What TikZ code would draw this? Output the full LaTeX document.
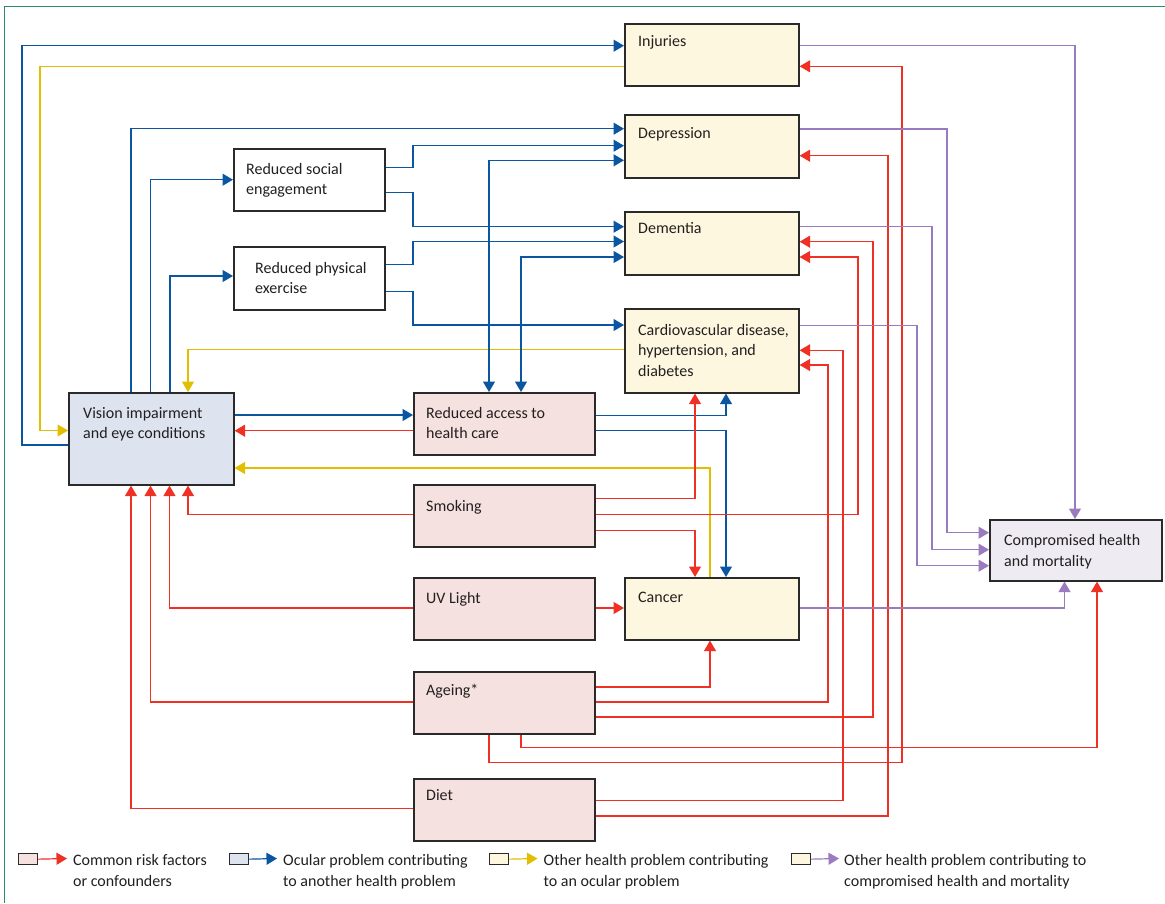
\documentclass[tikz,border=0pt]{standalone}
\usepackage{fontspec}
\setmainfont{Carlito}
\usetikzlibrary{arrows.meta}
\definecolor{cRed}{HTML}{EE3124}
\definecolor{cBlue}{HTML}{0A56A0}
\definecolor{cYel}{HTML}{E2BE00}
\definecolor{cPur}{HTML}{9B7BC0}
\definecolor{cGrn}{HTML}{2E8B64}
\definecolor{fPink}{HTML}{F5E1DF}
\definecolor{fBlue}{HTML}{DDE4F0}
\definecolor{fYel}{HTML}{FDF7E0}
\definecolor{fLav}{HTML}{EEEBF3}
\definecolor{cEdge}{HTML}{2A2A2A}
\definecolor{cTxt}{HTML}{231F20}
\begin{document}
\begin{tikzpicture}[x=1pt,y=-1pt,
  nbox/.style={draw=cEdge, line width=1.6pt, inner sep=0pt, anchor=north west},
  lgbox/.style={draw=cEdge, line width=1.3pt, inner sep=0pt, anchor=north west, minimum width=19pt, minimum height=11pt},
  txt/.style={anchor=base west, inner sep=0pt, align=left, text=cTxt, font=\fontsize{16}{20.8}\selectfont},
  link/.style={line width=1.2pt, -{Triangle[length=10.5pt,width=12pt]}},
  both/.style={line width=1.2pt, {Triangle[length=10.5pt,width=12pt]}-{Triangle[length=10.5pt,width=12pt]}},
  rd/.style={link, draw=cRed},
  bl/.style={link, draw=cBlue},
  yl/.style={link, draw=cYel},
  pu/.style={link, draw=cPur},
  blb/.style={both, draw=cBlue}]
\useasboundingbox (0,0) rectangle (1165,903);
\fill[white] (0,0) rectangle (1165,903);
\draw[cGrn, line width=1pt] (4.5,903) -- (4.5,6) -- (1165,6);

% boxes
\node[nbox, fill=fYel, minimum width=174pt, minimum height=62pt] (inj) at (624,23) {};
\node[nbox, fill=fYel, minimum width=174pt, minimum height=63pt] (dep) at (624,114) {};
\node[nbox, fill=fYel, minimum width=174pt, minimum height=63pt] (dem) at (624,211) {};
\node[nbox, fill=fYel, minimum width=174pt, minimum height=84pt] (car) at (624,308) {};
\node[nbox, fill=fYel, minimum width=174pt, minimum height=62pt] (can) at (624,577) {};
\node[nbox, fill=white, minimum width=151pt, minimum height=62pt] (soc) at (233,148) {};
\node[nbox, fill=white, minimum width=151pt, minimum height=63pt] (phy) at (233,246) {};
\node[nbox, fill=fBlue, minimum width=165pt, minimum height=92pt] (vis) at (68,392) {};
\node[nbox, fill=fPink, minimum width=181pt, minimum height=62pt] (rac) at (413,392) {};
\node[nbox, fill=fPink, minimum width=181pt, minimum height=62pt] (smk) at (413,484) {};
\node[nbox, fill=fPink, minimum width=181pt, minimum height=62pt] (uv) at (413,577) {};
\node[nbox, fill=fPink, minimum width=181pt, minimum height=62pt] (age) at (413,671) {};
\node[nbox, fill=fPink, minimum width=181pt, minimum height=62pt] (diet) at (413,778) {};
\node[nbox, fill=fLav, minimum width=172pt, minimum height=61pt] (com) at (989,519) {};

% texts (multi-line nodes: y is the baseline of the last line)
\node[txt] (injT) at (638,46) {Injuries};
\node[txt] (depT) at (638,138) {Depression};
\node[txt] (demT) at (638,233) {Dementia};
\node[txt] (carT) at (638,376.6) {Cardiovascular disease,\\hypertension, and\\diabetes};
\node[txt] (canT) at (638,602.5) {Cancer};
\node[txt] (socT) at (246,194.8) {Reduced social\\engagement};
\node[txt] (phyT) at (255,293.8) {Reduced physical\\exercise};
\node[txt] (visT) at (83,438.8) {Vision impairment\\and eye conditions};
\node[txt] (racT) at (426,438.8) {Reduced access to\\health care};
\node[txt] (smkT) at (426,511.5) {Smoking};
\node[txt] (uvT) at (426,603) {UV Light};
\node[txt] (ageT) at (426,695.5) {Ageing*};
\node[txt] (dietT) at (426,800) {Diet};
\node[txt] (comT) at (1004,566.3) {Compromised health\\and mortality};

% yellow
\draw[yl] (inj.west |- 0,66.3) -| (40,430.5) -- (vis.west |- 0,430.5);
\draw[yl] (car.west |- 0,349.7) -| (vis.north -| 188,0);
\draw[yl] (can.north -| 710,0) |- (vis.east |- 0,468);

% blue
\draw[bl] (vis.west |- 0,445) -| (22,45.7) -- (inj.west |- 0,45.7);
\draw[bl] (vis.north -| 131,0) |- (dep.west |- 0,128.7);
\draw[bl] (vis.north -| 150.5,0) |- (soc.west |- 0,179.7);
\draw[bl] (vis.north -| 170,0) |- (phy.west |- 0,276);
\draw[bl] (soc.east |- 0,167.3) -| (413,145.7) -- (dep.west |- 0,145.7);
\draw[bl] (soc.east |- 0,192.7) -| (413,226.7) -- (dem.west |- 0,226.7);
\draw[bl] (phy.east |- 0,264.3) -| (413,241.5) -- (dem.west |- 0,241.5);
\draw[bl] (phy.east |- 0,291.7) -| (413,325) -- (car.west |- 0,325);
\draw[blb] (dep.west |- 0,160.3) -| (rac.north -| 489,0);
\draw[blb] (dem.west |- 0,257) -| (rac.north -| 521,0);
\draw[bl] (vis.east |- 0,415) -- (rac.west |- 0,415);
\draw[bl] (rac.east |- 0,415.7) -| (car.south -| 726,0);
\draw[bl] (rac.east |- 0,430.7) -| (can.north -| 726,0);

% red
\draw[rd] (rac.west |- 0,430.7) -- (vis.east |- 0,430.7);
\draw[rd] (smk.east |- 0,498.7) -| (car.south -| 695,0);
\draw[rd] (smk.east |- 0,530.5) -| (can.north -| 695,0);
\draw[rd] (smk.east |- 0,514.5) -| (858,257) -- (dem.east |- 0,257);
\draw[rd] (smk.west |- 0,514.5) -| (vis.south -| 188,0);
\draw[rd] (uv.west |- 0,608) -| (vis.south -| 169.5,0);
\draw[rd] (uv.east |- 0,608) -- (can.west |- 0,608);
\draw[rd] (age.west |- 0,702) -| (vis.south -| 150.5,0);
\draw[rd] (diet.west |- 0,808.7) -| (vis.south -| 131,0);
\draw[rd] (age.east |- 0,687) -| (can.south -| 710,0);
\draw[rd] (age.east |- 0,702) -| (828,365) -- (car.east |- 0,365);
\draw[rd] (age.east |- 0,717) -| (873,241.7) -- (dem.east |- 0,241.7);
\draw[rd] (age.south -| 521,0) |- (1097,747.5) -- (com.south -| 1097,0);
\draw[rd] (age.south -| 489,0) |- (902,762.5) |- (inj.east |- 0,66.3);
\draw[rd] (diet.east |- 0,800.7) -| (843,350.3) -- (car.east |- 0,350.3);
\draw[rd] (diet.east |- 0,816) -| (888,155.7) -- (dep.east |- 0,155.7);

% purple
\draw[pu] (inj.east |- 0,45.5) -| (com.north -| 1075,0);
\draw[pu] (dep.east |- 0,129) -| (947,532.7) -- (com.west |- 0,532.7);
\draw[pu] (dem.east |- 0,226.7) -| (932,549.7) -- (com.west |- 0,549.7);
\draw[pu] (car.east |- 0,325.3) -| (917,565.7) -- (com.west |- 0,565.7);
\draw[pu] (can.east |- 0,608) -| (com.south -| 1064.5,0);

% legend
\node[lgbox, fill=fPink] (lg1) at (18,853) {};
\coordinate (lg1e) at (67,858.5);
\draw[rd] (lg1.east) -- (lg1e);
\node[txt] (lg1T) at (73,886.3) {Common risk factors\\or confounders};
\node[lgbox, fill=fBlue] (lg2) at (229,853) {};
\coordinate (lg2e) at (277,858.5);
\draw[bl] (lg2.east) -- (lg2e);
\node[txt] (lg2T) at (283,886.3) {Ocular problem contributing\\to another health problem};
\node[lgbox, fill=fYel] (lg3) at (489,853) {};
\coordinate (lg3e) at (537.5,858.5);
\draw[yl] (lg3.east) -- (lg3e);
\node[txt] (lg3T) at (543.5,886.3) {Other health problem contributing\\to an ocular problem};
\node[lgbox, fill=fYel] (lg4) at (790.5,853) {};
\coordinate (lg4e) at (839,858.5);
\draw[pu] (lg4.east) -- (lg4e);
\node[txt] (lg4T) at (844,886.3) {Other health problem contributing to\\compromised health and mortality};
\end{tikzpicture}
\end{document}
